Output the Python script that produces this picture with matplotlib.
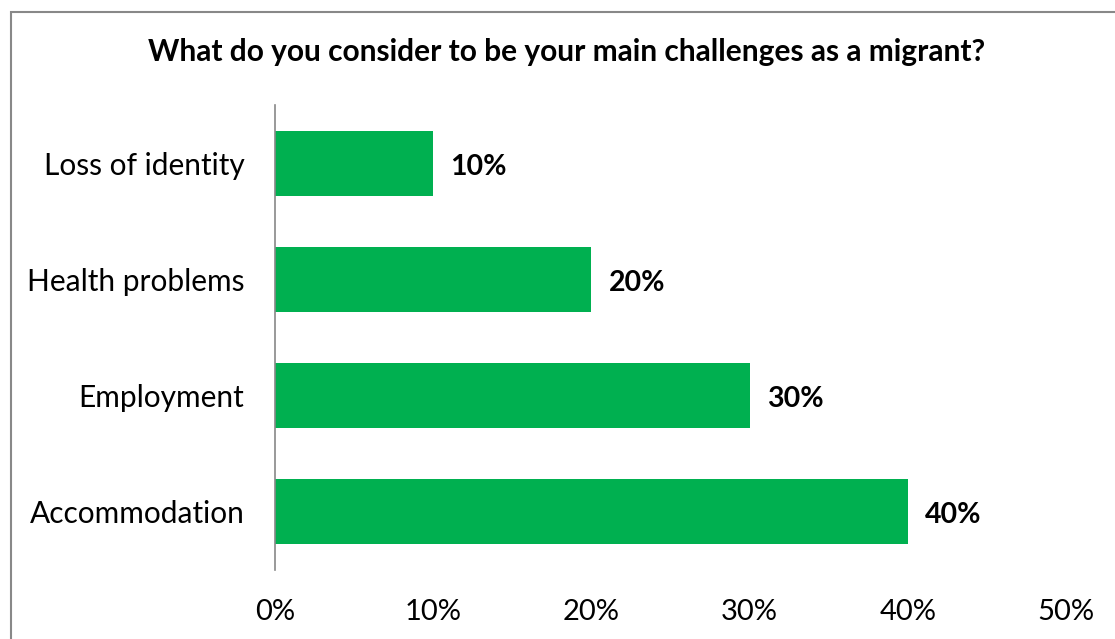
import matplotlib.pyplot as plt
from matplotlib.patches import Rectangle

categories = ["Accommodation", "Employment", "Health problems", "Loss of identity"]
shares = [40, 30, 20, 10]
x_ticks = [0, 10, 20, 30, 40, 50]

plt.rcParams['font.family'] = ['Lato', 'DejaVu Sans']

fig = plt.figure(figsize=(11.15, 6.39), dpi=100)
ax = fig.add_axes([275 / 1115, 1 - 570 / 639, (1066 - 275) / 1115, (570 - 105) / 639])

ax.barh(categories, shares, height=0.56, color="#00B050")

for i, v in enumerate(shares):
    ax.text(v + 1.1, i - 0.03, f"{v}%", va="center", ha="left",
            fontsize=20.5, fontweight="bold", color="black")

ax.set_xlim(0, 50)
ax.set_ylim(-0.5, 3.5)
ax.set_xticks(x_ticks)
ax.set_xticklabels([f"{t}%" for t in x_ticks])
ax.tick_params(axis="x", length=0, pad=21, labelsize=21)
ax.tick_params(axis="y", length=0, pad=22, labelsize=21.5)

for side in ["top", "right", "bottom"]:
    ax.spines[side].set_visible(False)
ax.spines["left"].set_color("#888888")
ax.spines["left"].set_linewidth(1.2)

fig.text((148 + 985) / 2 / 1115, 1 - 52 / 639,
         "What do you consider to be your main challenges as a migrant?",
         ha="center", va="center", fontsize=21.5, fontweight="bold")

# outer chart border (runs off the right and bottom edges)
fig.patches.append(Rectangle((11 / 1115, -0.1), 1.2, 1 - 12 / 639 + 0.1,
                             transform=fig.transFigure, fill=False,
                             edgecolor="#888888", linewidth=1.5))

fig.savefig("out.png", dpi=100)
